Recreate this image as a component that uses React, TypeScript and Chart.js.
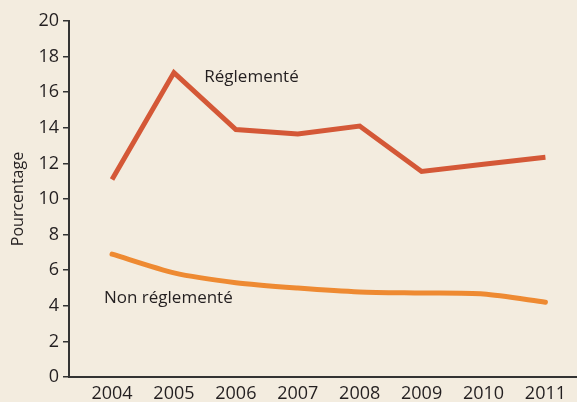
import React, { useEffect, useRef } from "react";
import { Chart, registerables } from "chart.js";

Chart.register(...registerables);

const years = [2004, 2005, 2006, 2007, 2008, 2009, 2010, 2011];
const reglemente = [11.1, 17.1, 13.9, 13.65, 14.1, 11.55, 11.95, 12.35];
const nonReglemente = [6.9, 5.85, 5.3, 5.0, 4.78, 4.72, 4.66, 4.2];
const yTicks = [0, 2, 4, 6, 8, 10, 12, 14, 16, 18, 20];
const seriesLabels = ["Réglementé", "Non réglementé"];
const yTitle = "Pourcentage";

const BG = "#f3ecdf";
const TEXT = "#231f20";
const FONT = "'Open Sans', 'Noto Sans', sans-serif";

const labelPlugin = {
  id: "seriesLabels",
  afterDatasetsDraw(chart: any) {
    const { ctx, scales } = chart;
    const x = scales.x;
    const y = scales.y;
    ctx.save();
    ctx.fillStyle = TEXT;
    ctx.font = `17px ${FONT}`;
    ctx.textAlign = "left";
    ctx.textBaseline = "middle";
    ctx.fillText(seriesLabels[0], x.getPixelForValue(2005.49), y.getPixelForValue(16.85));
    ctx.fillText(seriesLabels[1], x.getPixelForValue(2003.87), y.getPixelForValue(4.44));
    ctx.restore();
  },
};

export default function App() {
  const ref = useRef<HTMLCanvasElement>(null);
  useEffect(() => {
    document.body.style.margin = "0";
    const chart = new Chart(ref.current!, {
      type: "line",
      data: {
        datasets: [
          {
            label: seriesLabels[0],
            data: years.map((yr, i) => ({ x: yr, y: reglemente[i] })),
            borderColor: "#d45837",
            borderWidth: 5,
            pointRadius: 0,
            tension: 0,
            borderJoinStyle: "miter",
          },
          {
            label: seriesLabels[1],
            data: years.map((yr, i) => ({ x: yr, y: nonReglemente[i] })),
            borderColor: "#ee8a32",
            borderWidth: 5,
            pointRadius: 0,
            tension: 0.25,
            borderCapStyle: "round",
          },
        ],
      },
      options: {
        animation: false,
        responsive: false,
        maintainAspectRatio: false,
        layout: { padding: { top: 21, right: 0, left: 0, bottom: 0 } },
        plugins: { legend: { display: false }, tooltip: { enabled: false } },
        scales: {
          x: {
            type: "linear",
            min: 2003.305,
            max: 2011.51,
            afterBuildTicks: (s: any) => {
              s.ticks = years.map((v) => ({ value: v }));
            },
            afterFit: (s: any) => {
              s.height = 25;
            },
            grid: { display: false },
            border: { display: true, color: "#333", width: 2 },
            ticks: {
              color: TEXT,
              font: { family: FONT, size: 18 },
              padding: -2,
              maxRotation: 0,
              autoSkip: false,
              callback: (v: any) => String(v),
            },
          },
          y: {
            min: 0,
            max: 20,
            afterBuildTicks: (s: any) => {
              s.ticks = yTicks.map((v) => ({ value: v }));
            },
            afterFit: (s: any) => {
              s.width = 69;
            },
            grid: {
              drawOnChartArea: false,
              drawTicks: true,
              tickLength: 6,
              color: "#333",
              lineWidth: 1.5,
            },
            border: { display: true, color: "#333", width: 2 },
            title: {
              display: true,
              text: yTitle,
              color: TEXT,
              font: { family: FONT, size: 16 },
              padding: { top: 9, bottom: 0 },
            },
            ticks: {
              color: TEXT,
              font: { family: FONT, size: 18 },
              padding: 4,
            },
          },
        },
      },
      plugins: [labelPlugin],
    } as any);
    return () => chart.destroy();
  }, []);
  return (
    <div style={{ width: 577, height: 402, background: BG }}>
      <canvas ref={ref} width={577} height={402} style={{ display: "block" }} />
    </div>
  );
}
